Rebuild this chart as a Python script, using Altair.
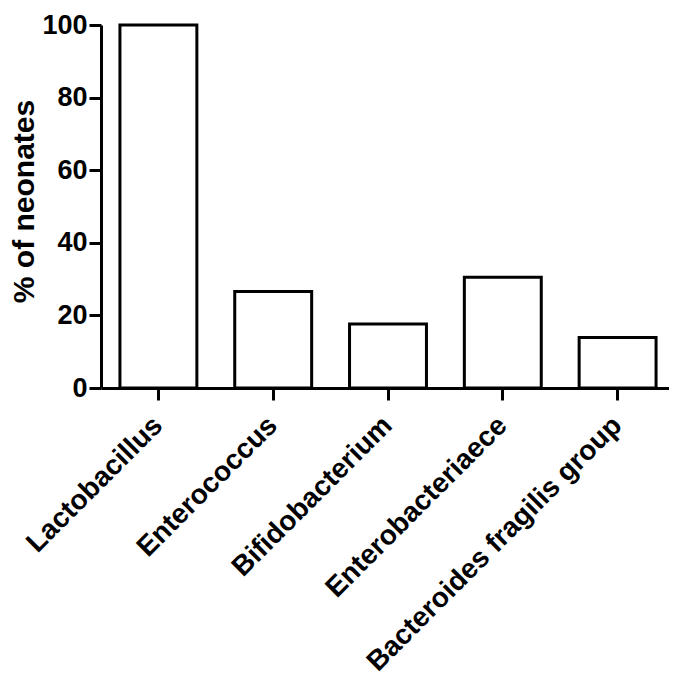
import altair as alt
import pandas as pd

categories = ["Lactobacillus", "Enterococcus", "Bifidobacterium", "Enterobacteriaece", "Bacteroides fragilis group"]
values = [100, 26.6, 17.6, 30.5, 13.9]
y_ticks = [0, 20, 40, 60, 80, 100]

df = pd.DataFrame({"category": categories, "percent": values})

FONT = "Liberation Sans"

chart = alt.Chart(df).mark_bar(fill="white", stroke="black", strokeWidth=3).encode(
    x=alt.X(
        "category:N",
        sort=categories,
        title=None,
        scale=alt.Scale(paddingInner=0.33, paddingOuter=0.165, range=[0, 574]),
        axis=alt.Axis(
            labelAngle=-45, labelAlign="right", labelBaseline="middle",
            labelFontSize=28, labelFont=FONT, labelFontWeight="bold", labelColor="black",
            labelLimit=0,
            tickSize=12, tickWidth=3, tickColor="black",
            domainWidth=3, domainColor="black",
            labelPadding=21, labelOverlap=False, labelBound=False, labelFlush=False,
            grid=False,
        ),
    ),
    y=alt.Y(
        "percent:Q",
        title="% of neonates",
        scale=alt.Scale(domain=[0, 100], nice=False, zero=True),
        axis=alt.Axis(
            values=y_ticks,
            labelFontSize=27, labelFont=FONT, labelFontWeight="bold", labelColor="black",
            labelPadding=2, labelFlush=False, labelOverlap=False,
            tickSize=12, tickWidth=3, tickColor="black",
            domainWidth=3, domainColor="black", grid=False,
            titleFont=FONT, titleFontSize=30, titleFontWeight="bold", titleColor="black",
            titleX=-77, titleY=176, titleBaseline="middle", titleAngle=-90,
        ),
    ),
).properties(
    width=568,
    height=363,
    padding={"left": 93, "top": 17, "right": 0, "bottom": 288},
    autosize=alt.AutoSizeParams(type="none"),
).configure_view(stroke=None)

chart.save("out.html", embed_options={"renderer": "svg", "actions": False})
